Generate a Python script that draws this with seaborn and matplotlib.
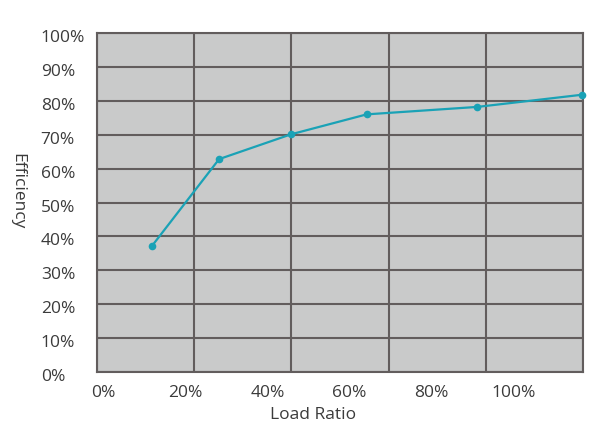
import matplotlib
matplotlib.use("Agg")
import matplotlib.pyplot as plt
import matplotlib.ticker as mticker
import matplotlib.transforms as mtransforms
import seaborn as sns
import pandas as pd
import numpy as np

# Data (x in % load ratio, y in % efficiency)
load_ratio = [11.9, 28.2, 45.7, 64.2, 91.2, 116.8]
efficiency = [37.3, 62.8, 70.1, 76.0, 78.2, 81.8]
x_tick_values = [0, 20, 40, 60, 80, 100]
y_tick_values = [0, 10, 20, 30, 40, 50, 60, 70, 80, 90, 100]

df = pd.DataFrame({"Load Ratio": load_ratio, "Efficiency": efficiency})

sns.set_theme(style="white")
plt.rcParams["font.family"] = ["Open Sans", "DejaVu Sans"]

TEXT = "#3b3b3b"
GRID = "#625d5d"
BG = "#c9caca"
LINE = "#1aa2b6"
FS = 12.5

fig = plt.figure(figsize=(6.08, 4.32), dpi=100)
ax = fig.add_axes([0.1595, 0.1389, 0.7993, 0.7847])
ax.set_facecolor(BG)

sns.lineplot(data=df, x="Load Ratio", y="Efficiency", ax=ax, color=LINE,
             linewidth=1.6, marker="o", markersize=5.5, markeredgewidth=0,
             zorder=5, clip_on=False)

ax.set_xlim(-1.59, 116.95)
ax.set_ylim(0, 100)

# major ticks carry labels, minor ticks carry the vertical grid
ax.xaxis.set_major_locator(mticker.FixedLocator(x_tick_values))
ax.xaxis.set_major_formatter(mticker.FuncFormatter(lambda v, p: f"{v:.0f}%"))
ax.xaxis.set_minor_locator(mticker.FixedLocator(list(np.linspace(-1.59, 116.95, 6))))
ax.yaxis.set_major_locator(mticker.FixedLocator(y_tick_values))
ax.yaxis.set_major_formatter(mticker.FuncFormatter(lambda v, p: f"{v:.0f}%"))

ax.grid(False)
ax.yaxis.grid(True, which="major", color=GRID, linewidth=1.5)
ax.xaxis.grid(True, which="minor", color=GRID, linewidth=1.5)
ax.set_axisbelow(True)

for s in ax.spines.values():
    s.set_color(GRID)
    s.set_linewidth(1.5)
    s.set_visible(True)

ax.tick_params(axis="x", which="both", length=0, pad=9.5, labelsize=FS, labelcolor=TEXT)
ax.tick_params(axis="y", which="both", length=0, pad=40.5, labelsize=FS, labelcolor=TEXT)
shift = mtransforms.ScaledTranslation(0, -3 / 100, fig.dpi_scale_trans)
for lab in ax.get_yticklabels():
    lab.set_horizontalalignment("left")
    lab.set_transform(lab.get_transform() + shift)

ax.set_xlabel("Load Ratio", fontsize=FS, color=TEXT)
ax.xaxis.label.set_va("center")
ax.xaxis.set_label_coords(0.444, -0.128)
ax.set_ylabel("Efficiency", fontsize=FS, color=TEXT, rotation=-90)
ax.yaxis.label.set_va("center")
ax.yaxis.label.set_ha("center")
ax.yaxis.set_label_coords(-0.1646, 0.534)

fig.savefig("out.png", dpi=100)
